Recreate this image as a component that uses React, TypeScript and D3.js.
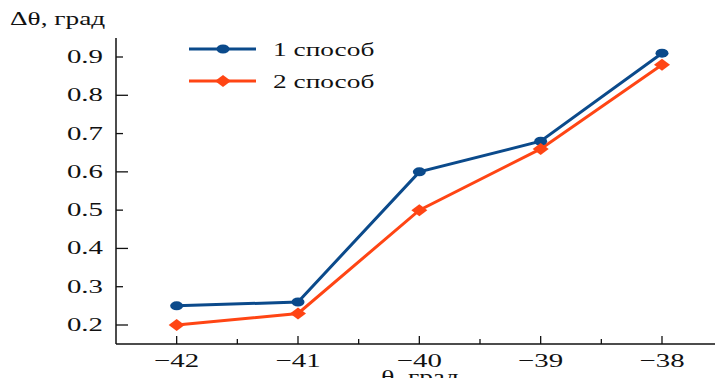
import * as d3 from 'd3';

const angles = [-42, -41, -40, -39, -38];
const method1 = [0.25, 0.26, 0.6, 0.68, 0.91];
const method2 = [0.2, 0.23, 0.5, 0.66, 0.88];
const yTicks = [0.2, 0.3, 0.4, 0.5, 0.6, 0.7, 0.8, 0.9];
const xMinorTicks = [-41.5, -40.5, -39.5, -38.5];
const seriesNames = ['1 способ', '2 способ'];

const W = 715;
const H = 378;
const BLUE = '#0b4a8b';
const ORANGE = '#ff4514';
const FONT = '"Liberation Serif", "Times New Roman", serif';
const SX = 1.52; // the reference text is stretched horizontally

export default function App() {
  const x = d3.scaleLinear().domain([-42.5, -38]).range([116, 662]);
  const y = d3.scaleLinear().domain([0.2, 0.9]).range([325, 57]);
  const axisY = 344;
  const axisTop = 38;

  const line = d3.line<number>()
    .x((_, i) => x(angles[i]))
    .y(d => y(d));

  const diamond = (cx: number, cy: number) =>
    `M${cx - 8},${cy} L${cx},${cy - 6} L${cx + 8},${cy} L${cx},${cy + 6} Z`;

  const label = (tx: number, ty: number, text: string, anchor: string, size = 19) => (
    <text
      transform={`translate(${tx},${ty}) scale(${SX},1)`}
      textAnchor={anchor}
      fontFamily={FONT}
      fontSize={size}
      fill="#111"
    >
      {text}
    </text>
  );

  return (
    <div style={{ position: 'absolute', left: 0, top: 0 }}>
      <svg width={W} height={H} style={{ display: 'block', background: '#fff' }}>
        {/* axes */}
        <line x1={116} x2={116} y1={axisTop} y2={axisY} stroke="#111" strokeWidth={1.5} />
        <line x1={116} x2={W} y1={axisY} y2={axisY} stroke="#111" strokeWidth={1.5} />

        {yTicks.map((t, i) => (
          <g key={t}>
            <line
              x1={116}
              x2={116 + (i % 2 === 0 ? 12 : 7)}
              y1={y(t)}
              y2={y(t)}
              stroke="#111"
              strokeWidth={1.3}
            />
            {label(103, y(t) + 6, t.toFixed(1), 'end')}
          </g>
        ))}

        {angles.map(a => (
          <g key={a}>
            <line x1={x(a)} x2={x(a)} y1={axisY} y2={axisY - 8} stroke="#111" strokeWidth={1.3} />
            {label(x(a), 367, `−${Math.abs(a)}`, 'middle')}
          </g>
        ))}
        {xMinorTicks.map(a => (
          <line key={a} x1={x(a)} x2={x(a)} y1={axisY} y2={axisY - 5} stroke="#111" strokeWidth={1.3} />
        ))}

        {label(10, 25, 'Δθ, град', 'start', 18)}
        {label(420, 383, 'θ, град', 'middle', 18)}

        {/* series */}
        <path d={line(method1) ?? ''} fill="none" stroke={BLUE} strokeWidth={3} />
        <path d={line(method2) ?? ''} fill="none" stroke={ORANGE} strokeWidth={3} />
        {method1.map((v, i) => (
          <ellipse key={i} cx={x(angles[i])} cy={y(v)} rx={6.5} ry={4.5} fill={BLUE} />
        ))}
        {method2.map((v, i) => (
          <path key={i} d={diamond(x(angles[i]), y(v))} fill={ORANGE} />
        ))}

        {/* legend */}
        <line x1={189} x2={256} y1={49} y2={49} stroke={BLUE} strokeWidth={3} />
        <ellipse cx={223} cy={49} rx={6.5} ry={4.5} fill={BLUE} />
        {label(273, 56, seriesNames[0], 'start', 18)}
        <line x1={189} x2={256} y1={81} y2={81} stroke={ORANGE} strokeWidth={3} />
        <path d={diamond(223, 81)} fill={ORANGE} />
        {label(273, 88, seriesNames[1], 'start', 18)}
      </svg>
    </div>
  );
}
